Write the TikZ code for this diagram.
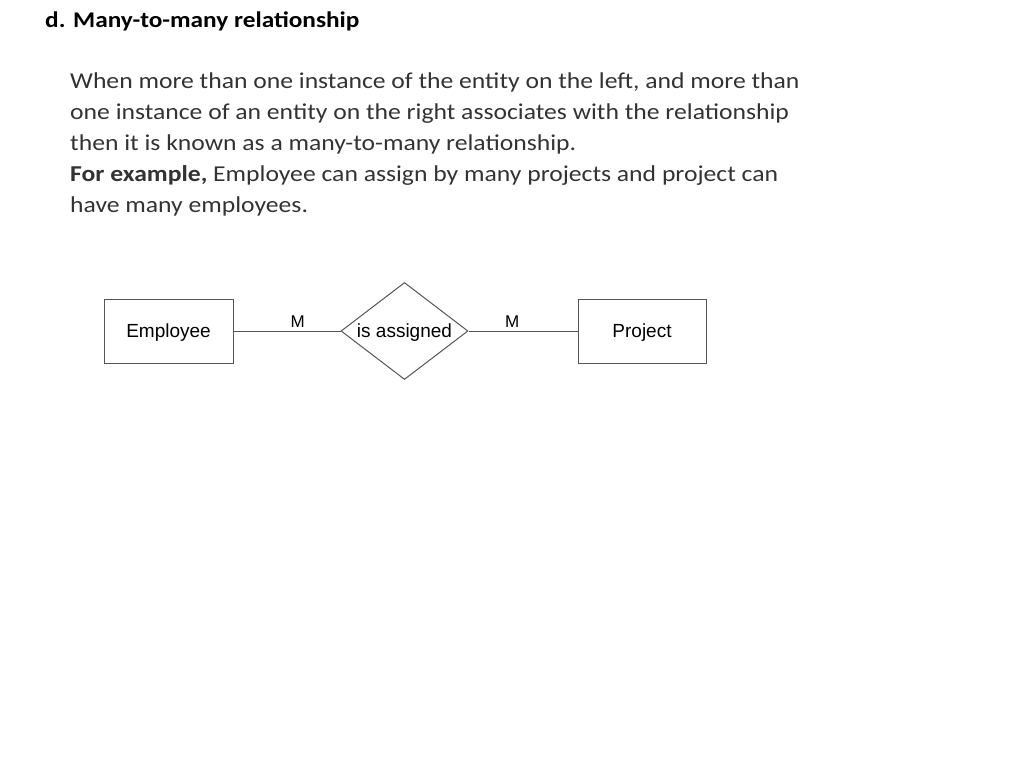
\documentclass[tikz,border=0pt]{standalone}
\usepackage{fontspec}
\setmainfont{Carlito}[FakeStretch=1.13]
\newfontfamily\diagfont{Liberation Sans}
\usetikzlibrary{positioning, shapes.geometric}

\definecolor{bodygray}{HTML}{333333}
\definecolor{linegray}{HTML}{555555}

\begin{document}
\begin{tikzpicture}[
        x=1pt, y=-1pt,
        entity/.style={
            draw=linegray,
            line width=1pt,
            minimum width=129pt,
            minimum height=64pt,
            text depth=0.05em,
            font=\diagfont\fontsize{19}{21}\selectfont
        },
        relation/.style={
            draw=linegray,
            line width=1pt,
            diamond,
            aspect=1.31,
            inner sep=0pt,
            minimum width=127pt,
            minimum height=97pt,
            text depth=0.05em,
            font=\diagfont\fontsize{19}{21}\selectfont
        },
        card/.style={
            font=\diagfont\fontsize{17}{19}\selectfont,
            inner sep=3pt
        },
        link/.style={draw=linegray, line width=1pt}
    ]
        \useasboundingbox (0, 0) rectangle (1024, 768);

        % heading and text
        \node[anchor=base west, inner sep=0pt, font=\bfseries\fontsize{22.4}{26}\selectfont] (title) at (45, 28) {d. Many-to-many relationship};

        \node[
            anchor=base west,
            inner sep=0pt,
            align=left,
            text=bodygray,
            font=\fontsize{22.7}{31}\selectfont
        ] (body) at (70, 212) {When more than one instance of the entity on the left, and more than\\
one instance of an entity on the right associates with the relationship\\
then it is known as a many-to-many relationship.\\
\textbf{For example,} Employee can assign by many projects and project can\\
have many employees.};

        % diagram
        \node[entity] (employee) at (168.5, 331) {Employee};
        \node[relation, right=107pt of employee] (assigned) {is assigned};
        \node[entity, minimum width=128pt, right=109pt of assigned] (project) {Project};

        \draw[link] (employee) -- node[card, pos=0.6, above] {M} (assigned);
        \draw[link] (assigned) -- node[card, pos=0.4, above] {M} (project);
    \end{tikzpicture}
\end{document}
